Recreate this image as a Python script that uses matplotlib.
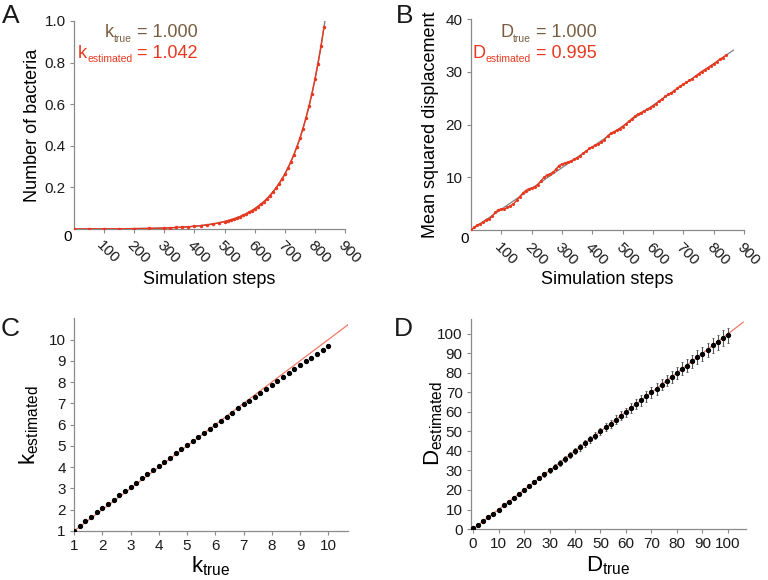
import matplotlib
matplotlib.use("Agg")
import matplotlib.pyplot as plt

plt.rcParams['font.family'] = ['Liberation Sans', 'DejaVu Sans']
plt.rcParams['mathtext.fontset'] = 'custom'
plt.rcParams['mathtext.rm'] = 'Liberation Sans'

# ---- Panel A: bacterial growth ----
steps_a = [0, 50, 100, 150, 200, 250, 300, 320, 340, 360, 380, 400, 420, 440, 460,
           480, 500, 510, 520, 530, 540, 550, 560, 570, 580, 590, 600, 610, 620, 630,
           640, 650, 660, 670, 680, 690, 700, 710, 720, 730, 740, 750, 760, 770, 780,
           790, 800, 810, 820, 830]
bacteria_sim = [0.0002, 0.0004, 0.0007, 0.0011, 0.0018, 0.0029, 0.0048, 0.0059, 0.0072,
                0.0088, 0.0108, 0.0132, 0.0161, 0.0196, 0.0240, 0.0293, 0.0358, 0.0396,
                0.0437, 0.0483, 0.0534, 0.0590, 0.0652, 0.0721, 0.0797, 0.0880, 0.0973,
                0.108, 0.119, 0.131, 0.145, 0.160, 0.177, 0.196, 0.217, 0.239, 0.264,
                0.292, 0.323, 0.357, 0.395, 0.436, 0.482, 0.533, 0.589, 0.651, 0.719,
                0.795, 0.878, 0.970]
model_end_a = (833, 1.0)

# ---- Panel B: mean squared displacement ----
steps_b = list(range(0, 850, 10))
msd_sim = [0.00, 0.49, 0.94, 1.18, 1.48, 1.97, 2.11, 2.66, 3.35, 3.85, 3.99, 4.03, 4.28,
           4.62, 4.97, 5.61, 6.30, 6.95, 7.49, 7.79, 7.98, 8.17, 8.62, 9.31, 9.96, 10.40,
           10.64, 10.94, 11.53, 12.23, 12.52, 12.71, 12.91, 13.10, 13.40, 13.69, 13.98,
           14.58, 14.97, 15.47, 15.76, 16.05, 16.35, 16.64, 17.14, 17.83, 18.32, 18.62,
           18.91, 19.21, 19.60, 20.09, 20.59, 21.08, 21.58, 21.97, 22.26, 22.56, 22.85,
           23.15, 23.54, 23.93, 24.43, 24.82, 25.32, 25.71, 26.00, 26.45, 26.89, 27.29,
           27.68, 27.97, 28.37, 28.71, 29.16, 29.60, 30.04, 30.39, 30.73, 31.13, 31.47,
           31.91, 32.36, 32.70, 33.10]
model_steps_b = [0, 865]
model_msd_b = [0.0, 34.1]

# ---- Panel C: k estimated vs true ----
k_true = [1.0, 1.2, 1.4, 1.6, 1.8, 2.0, 2.2, 2.4, 2.6, 2.8, 3.0, 3.2, 3.4, 3.6, 3.8,
          4.0, 4.2, 4.4, 4.6, 4.8, 5.0, 5.2, 5.4, 5.6, 5.8, 6.0, 6.2, 6.4, 6.6, 6.8,
          7.0, 7.2, 7.4, 7.6, 7.8, 8.0, 8.2, 8.4, 8.6, 8.8, 9.0, 9.2, 9.4, 9.6, 9.8, 10.0]
k_est = [1.00, 1.24, 1.45, 1.66, 1.87, 2.07, 2.27, 2.47, 2.67, 2.87, 3.07, 3.27, 3.47,
         3.67, 3.86, 4.06, 4.26, 4.45, 4.65, 4.84, 5.04, 5.23, 5.43, 5.62, 5.81, 6.00,
         6.19, 6.38, 6.57, 6.76, 6.95, 7.13, 7.32, 7.51, 7.69, 7.88, 8.06, 8.24, 8.43,
         8.61, 8.79, 8.97, 9.15, 9.33, 9.52, 9.72]
k_identity = [1.0, 10.7]

# ---- Panel D: D estimated vs true ----
d_true = [0, 2, 4, 6, 8, 10, 12, 14, 16, 18, 20, 22, 24, 26, 28, 30, 32, 34, 36, 38,
          40, 42, 44, 46, 48, 50, 52, 54, 56, 58, 60, 62, 64, 66, 68, 70, 72, 74, 76, 78,
          80, 82, 84, 86, 88, 90, 92, 94, 96, 98, 100]
d_est = [0.3, 2.1, 4.0, 6.0, 7.9, 10.0, 12.1, 14.0, 15.9, 18.0,
         20.0, 22.1, 24.0, 25.9, 28.0, 30.1, 32.0, 33.9, 36.0, 38.1,
         40.0, 41.9, 44.0, 46.1, 47.9, 50.0, 52.1, 53.9, 56.0, 58.1,
         59.8, 62.0, 64.1, 65.9, 68.0, 70.2, 71.8, 74.0, 76.1, 77.9,
         79.9, 82.1, 83.8, 86.0, 88.2, 89.8, 91.9, 94.1, 95.8, 97.9, 99.2]
d_err = [0.0, 0.1, 0.2, 0.2, 0.3, 0.4, 0.5, 0.6, 0.6, 0.7,
         0.8, 0.9, 1.0, 1.0, 1.1, 1.2, 1.3, 1.4, 1.4, 1.5,
         1.6, 1.7, 1.8, 1.8, 1.9, 2.0, 2.1, 2.2, 2.2, 2.3,
         2.4, 2.5, 2.6, 2.6, 2.7, 2.8, 2.9, 3.0, 3.0, 3.1,
         3.2, 3.3, 3.4, 3.4, 3.5, 3.6, 3.7, 3.8, 3.8, 3.9, 4.0]
d_identity = [0, 106]

RED = '#e8381f'
BROWN = '#7a5d40'
GRAY = '#808080'
SPINE = '#8a8a8a'
W, H = 768, 580


def style_axes(ax):
    for s in ['top', 'right']:
        ax.spines[s].set_visible(False)
    for s in ['left', 'bottom']:
        ax.spines[s].set_color(SPINE)
        ax.spines[s].set_linewidth(0.9)
    ax.tick_params(length=3, width=0.8, color=SPINE, labelsize=11,
                   labelcolor='#1a1a1a', pad=3)


def slant_xticks(ax):
    ax.tick_params(axis='x', pad=4)
    for lab in ax.get_xticklabels():
        lab.set_rotation(-45)
        lab.set_ha('left')
        lab.set_va('top')
        lab.set_rotation_mode('anchor')


def sub_text(fig, x_px, y_px, base, sub, rest, color, size=13, sub_size=7.5):
    # right-aligned "base_sub rest" built from pieces, baseline at y_px (from top)
    r = fig.canvas.get_renderer()
    t = fig.text(x_px / W, 1 - y_px / H, rest, ha='right', va='baseline',
                 fontsize=size, color=color)
    x0 = t.get_window_extent(r).x0
    t = fig.text(x0 / W, 1 - (y_px + 4.5) / H, sub, ha='right', va='baseline',
                 fontsize=sub_size, color=color)
    x0 = t.get_window_extent(r).x0
    fig.text(x0 / W, 1 - y_px / H, base, ha='right', va='baseline',
             fontsize=size, color=color)


fig = plt.figure(figsize=(7.68, 5.8), dpi=100)

# Panel A
axA = fig.add_axes([0.0964, 0.6052, 0.3529, 0.3586])
style_axes(axA)
axA.plot(list(steps_a) + [model_end_a[0]], list(bacteria_sim) + [model_end_a[1]],
         color=GRAY, lw=1.0, zorder=2)
axA.plot(steps_a, bacteria_sim, color=RED, lw=1.0, marker='.', ms=3, zorder=3)
axA.set_xlim(0, 900)
axA.set_ylim(0, 1.0)
axA.set_yticks([0.2, 0.4, 0.6, 0.8, 1.0])
axA.set_yticklabels(['0.2', '0.4', '0.6', '0.8', '1.0'])
axA.set_xticks(range(100, 1000, 100))
slant_xticks(axA)
axA.annotate('0', xy=(0, 0), xycoords='axes fraction', xytext=(-4.5, -6),
             textcoords='offset points', ha='center', va='center', fontsize=11)
axA.set_ylabel('Number of bacteria', fontsize=13)
axA.yaxis.set_label_coords(-0.122, 0.5)
axA.set_xlabel('Simulation steps', fontsize=13)
axA.xaxis.set_label_coords(0.5, -0.2)
sub_text(fig, 198, 37, 'k', 'true', ' = 1.000', BROWN)
sub_text(fig, 198, 58, 'k', 'estimated', ' = 1.042', RED)

# Panel B
axB = fig.add_axes([0.6133, 0.6034, 0.3555, 0.3638])
style_axes(axB)
axB.plot(model_steps_b, model_msd_b, color=GRAY, lw=0.9, zorder=2)
axB.plot(steps_b, msd_sim, color=RED, lw=1.0, marker='.', ms=2.5, zorder=3)
axB.set_xlim(0, 900)
axB.set_ylim(0, 40)
axB.set_yticks([10, 20, 30, 40])
axB.set_xticks(range(100, 1000, 100))
slant_xticks(axB)
axB.annotate('0', xy=(0, 0), xycoords='axes fraction', xytext=(-4.5, -6.5),
             textcoords='offset points', ha='center', va='center', fontsize=11)
axB.set_ylabel('Mean squared displacement', fontsize=13)
axB.yaxis.set_label_coords(-0.117, 0.5)
axB.set_xlabel('Simulation steps', fontsize=13)
axB.xaxis.set_label_coords(0.5, -0.195)
sub_text(fig, 597, 37, 'D', 'true', ' = 1.000', BROWN)
sub_text(fig, 597, 58, 'D', 'estimated', ' = 0.995', RED)

# Panel C
axC = fig.add_axes([0.0964, 0.0845, 0.3568, 0.3667])
style_axes(axC)
axC.plot(k_identity, k_identity, color='#f07a66', lw=0.9, zorder=2)
axC.plot(k_true, k_est, 'o', color='black', ms=2.8, zorder=3)
axC.set_xlim(1, 10.7)
axC.set_ylim(1, 11)
axC.set_xticks(range(1, 11))
axC.set_yticks(range(1, 11))
axC.set_xlabel(r'$\mathregular{k_{true}}$', fontsize=16)
axC.xaxis.set_label_coords(0.5, -0.11)
axC.set_ylabel(r'$\mathregular{k_{estimated}}$', fontsize=16)
axC.yaxis.set_label_coords(-0.12, 0.5)

# Panel D
axD = fig.add_axes([0.6133, 0.0879, 0.3577, 0.3616])
style_axes(axD)
axD.plot(d_identity, d_identity, color='#f07a66', lw=0.9, zorder=2)
axD.errorbar(d_true, d_est, yerr=d_err, fmt='o', color='black', ms=2.8,
             ecolor='#555555', elinewidth=0.8, capsize=1, capthick=0.6, zorder=3)
axD.set_xlim(-0.8, 107)
axD.set_ylim(0, 107.5)
axD.set_xticks(range(0, 101, 10))
axD.set_yticks(range(0, 101, 10))
axD.set_xlabel(r'$\mathregular{D_{true}}$', fontsize=16)
axD.xaxis.set_label_coords(0.5, -0.12)
axD.set_ylabel(r'$\mathregular{D_{estimated}}$', fontsize=16)
axD.yaxis.set_label_coords(-0.095, 0.5)

# panel letters
for letter, x, y in [('A', 2, 23), ('B', 396, 23), ('C', 1, 336), ('D', 394, 336)]:
    fig.text(x / 768, 1 - y / 580, letter, fontsize=19, ha='left', va='baseline',
             color='#1a1a1a')

fig.savefig('out.png', dpi=100)
